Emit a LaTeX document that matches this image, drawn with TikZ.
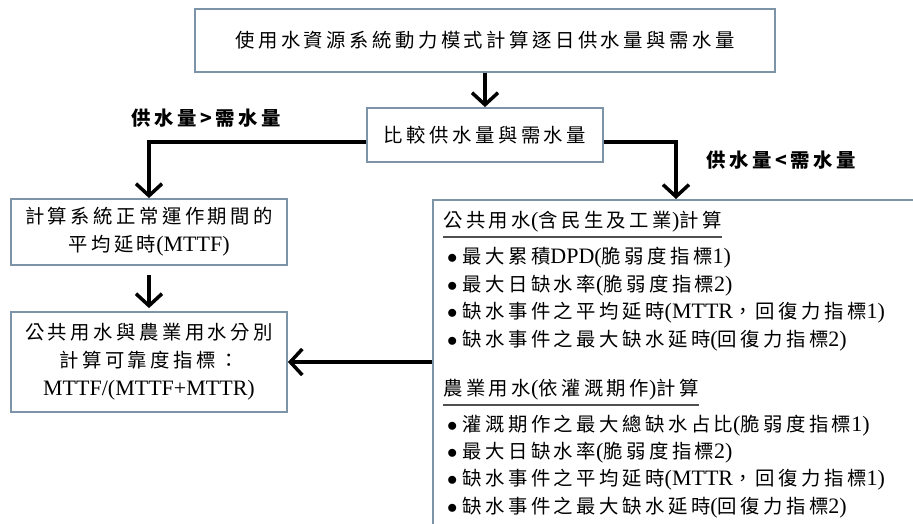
\documentclass[tikz,border=0pt]{standalone}
\usepackage{fontspec}
\setmainfont{Liberation Serif}
\newfontfamily\cjk[Scale=0.88,LetterSpace=18]{Noto Sans CJK TC}
\newcommand{\zh}[1]{{\cjk #1}}
\newcommand{\dotmark}{$\bullet$\hspace{5pt}}
\usepackage{tikz}
\usetikzlibrary{arrows.meta,positioning}
\definecolor{boxline}{RGB}{125,148,168}
\definecolor{ulinegray}{RGB}{80,80,80}

\begin{document}
\begin{tikzpicture}[x=1pt,y=-1pt,
	every node/.style={font=\fontsize{22}{28}\selectfont},
	box/.style={draw=boxline,line width=1.8pt,align=center,inner sep=0pt},
	arr/.style={line width=3.5pt,-{Straight Barb[length=12pt,width=26pt]}},
	cond/.style={font=\fontsize{22}{28}\selectfont\bfseries},
	head/.style={anchor=west,inner sep=0pt},
	item/.style={anchor=west,inner sep=0pt},
	uline/.style={draw=ulinegray,line width=2pt}]
	\useasboundingbox (0,0) rectangle (913,523);
	\node[box,minimum width=580pt,minimum height=63pt] (top) at (485,40.5) {\zh{使用水資源系統動力模式計算逐日供水量與需水量}};
	\node[box,minimum width=236pt,minimum height=54pt] (cmp) at (485,135) {\zh{比較供水量與需水量}};
	\node[box,minimum width=276pt,minimum height=66pt] (mttf) at (149,232) {\zh{計算系統正常運作期間的}\\\zh{平均延時}(MTTF)};
	\node[box,minimum width=276pt,minimum height=100pt] (rel) at (149,362) {\zh{公共用水與農業用水分別}\\\zh{計算可靠度指標：}\\MTTF/(MTTF+MTTR)};
	\node[box,anchor=north west,minimum width=520pt,minimum height=360pt] (pub) at (432,199) {};
	\node[cond] (gt) at (206,118) {\zh{供水量>需水量}};
	\node[cond] (lt) at (781,160) {\zh{供水量<需水量}};
	\coordinate (pubin) at ([xshift=244pt]pub.north west);
	\draw[arr] (top) -- (cmp);
	\draw[arr] ([yshift=-7pt]cmp.west) -| (mttf.north);
	\draw[arr] ([yshift=-7pt]cmp.east) -| (pubin);
	\draw[arr,shorten <=9pt,shorten >=3pt] (mttf) -- (rel);
	\draw[arr] (pub.west |- rel) -- (rel.east);
	\node[head] (h1) at (443,222) {\zh{公共用水}(\zh{含民生及工業})\zh{計算}};
	\draw[uline] ([yshift=-4pt]h1.south west) -- ([yshift=-4pt]h1.south east);
	\node[item] (p1) at (447,258) {\dotmark\zh{最大累積}DPD(\zh{脆弱度指標}1)};
	\node[item] (p2) at (447,286) {\dotmark\zh{最大日缺水率}(\zh{脆弱度指標}2)};
	\node[item] (p3) at (447,313) {\dotmark\zh{缺水事件之平均延時}(MTTR\zh{，回復力指標}1)};
	\node[item] (p4) at (447,341) {\dotmark\zh{缺水事件之最大缺水延時}(\zh{回復力指標}2)};
	\node[head] (h2) at (443,390) {\zh{農業用水}(\zh{依灌溉期作})\zh{計算}};
	\draw[uline] ([yshift=-4pt]h2.south west) -- ([yshift=-4pt]h2.south east);
	\node[item] (a1) at (447,426) {\dotmark\zh{灌溉期作之最大總缺水占比}(\zh{脆弱度指標}1)};
	\node[item] (a2) at (447,453) {\dotmark\zh{最大日缺水率}(\zh{脆弱度指標}2)};
	\node[item] (a3) at (447,480) {\dotmark\zh{缺水事件之平均延時}(MTTR\zh{，回復力指標}1)};
	\node[item] (a4) at (447,508) {\dotmark\zh{缺水事件之最大缺水延時}(\zh{回復力指標}2)};
\end{tikzpicture}
\end{document}
